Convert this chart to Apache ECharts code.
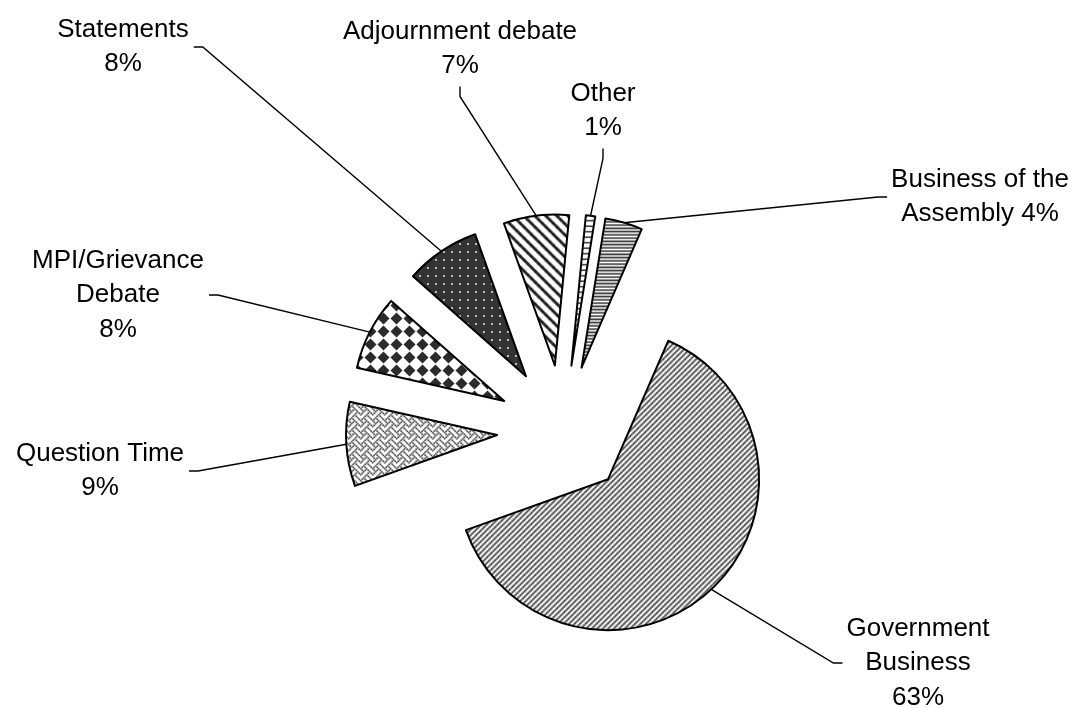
<!DOCTYPE html>
<html>
<head>
<meta charset="utf-8">
<title>Assembly sitting time</title>
<script src="https://cdn.jsdelivr.net/npm/echarts@6/dist/echarts.min.js"></script>
<style>
  html, body { margin: 0; padding: 0; background: #fff; }
  #chart { width: 1075px; height: 708px; }
</style>
</head>
<body>
<div id="chart"></div>
<script>
// data, clockwise from the big slice
const categories = [
  'Government\nBusiness',
  'Question Time',
  'MPI/Grievance\nDebate',
  'Statements',
  'Adjournment debate',
  'Other',
  'Business of the\nAssembly'
];
const values = [63, 9, 8, 8, 7, 1, 4];
const percentSep = ['\n', '\n', '\n', '\n', '\n', '\n', ' '];

// layout
const pieCenter = [563, 431];
const pieRadius = 151;
const explode = 66;
const startAngle = 66.5;
const labelPos = [[918, 663], [100, 471], [118, 295], [123, 47], [460, 49], [603, 111], [980, 197]];
const labelSide = ['left', 'right', 'right', 'right', 'bottom', 'bottom', 'left'];

// excel-like fill patterns: 8x8 bitmaps scaled up with smoothing
function bitmapPattern(rows, fg, bg, scale) {
  const src = document.createElement('canvas');
  src.width = 24; src.height = 24;
  const sc = src.getContext('2d');
  sc.fillStyle = bg;
  sc.fillRect(0, 0, 24, 24);
  sc.fillStyle = fg;
  for (let ty = 0; ty < 3; ty++) {
    for (let tx = 0; tx < 3; tx++) {
      rows.forEach((bits, r) => {
        for (let c = 0; c < 8; c++) {
          if (bits & (0x80 >> c)) sc.fillRect(tx * 8 + c, ty * 8 + r, 1, 1);
        }
      });
    }
  }
  const size = Math.round(8 * scale);
  const big = document.createElement('canvas');
  big.width = big.height = size * 3;
  const bc = big.getContext('2d');
  bc.imageSmoothingEnabled = true;
  bc.drawImage(src, 0, 0, size * 3, size * 3);
  const out = document.createElement('canvas');
  out.width = out.height = size;
  out.getContext('2d').drawImage(big, size, size, size, size, 0, 0, size, size);
  return { image: out, repeat: 'repeat' };
}

// drawn tiles for the diamond and dotted fills
function drawnPattern(size, draw) {
  const c = document.createElement('canvas');
  c.width = c.height = size;
  draw(c.getContext('2d'), size);
  return { image: c, repeat: 'repeat' };
}

const diamonds = drawnPattern(13, (ctx, s) => {
  ctx.fillStyle = '#fff';
  ctx.fillRect(0, 0, s, s);
  ctx.fillStyle = '#2b2b2b';
  const h = s / 2, r = 6;
  ctx.beginPath();
  ctx.moveTo(h, h - r);
  ctx.lineTo(h + r, h);
  ctx.lineTo(h, h + r);
  ctx.lineTo(h - r, h);
  ctx.closePath();
  ctx.fill();
});

const dots = drawnPattern(8, (ctx, s) => {
  ctx.fillStyle = '#333';
  ctx.fillRect(0, 0, s, s);
  ctx.fillStyle = '#ddd';
  ctx.beginPath();
  ctx.arc(s / 2, s / 2, 1.1, 0, Math.PI * 2);
  ctx.fill();
});

const patterns = [
  bitmapPattern([0x33, 0x66, 0xcc, 0x99, 0x33, 0x66, 0xcc, 0x99], '#555', '#fff', 1.375),
  bitmapPattern([0x88, 0x54, 0x22, 0x45, 0x88, 0x14, 0x22, 0x51], '#222', '#fff', 1.5),
  diamonds,
  dots,
  bitmapPattern([0xc1, 0xe0, 0x70, 0x38, 0x1c, 0x0e, 0x07, 0x83], '#222', '#fff', 1.375),
  bitmapPattern([0xff, 0x00, 0x00, 0x00, 0xff, 0x00, 0x00, 0x00], '#222', '#fff', 1.375),
  bitmapPattern([0xff, 0x00, 0xff, 0x00, 0xff, 0x00, 0xff, 0x00], '#333', '#fff', 1.625)
];

// each slice gets its own series pushed out along its mid angle
const total = values.reduce((a, b) => a + b, 0);
let acc = 0;
const centers = values.map((v) => {
  const mid = (startAngle - (acc + v / 2) / total * 360) * Math.PI / 180;
  acc += v;
  return [pieCenter[0] + explode * Math.cos(mid), pieCenter[1] - explode * Math.sin(mid)];
});

function layoutLabel(p) {
  const i = p.dataIndex;
  const [x, y] = labelPos[i];
  const w = p.labelRect.width;
  const h = p.labelRect.height;
  const pts = p.labelLinePoints;
  if (!pts) return { x: x, y: y, align: 'center', verticalAlign: 'middle' };
  let end, elbow;
  if (labelSide[i] === 'left') {
    end = [x - w / 2 - 4, y];
    elbow = [end[0] - 9, y];
  } else if (labelSide[i] === 'right') {
    end = [x + w / 2 + 5, y];
    elbow = [end[0] + 9, y];
  } else {
    end = [x, y + h / 2 + 3];
    elbow = [x, end[1] + 10];
  }
  return {
    x: x,
    y: y,
    align: 'center',
    verticalAlign: 'middle',
    labelLinePoints: [pts[0], elbow, end]
  };
}

const chart = echarts.init(document.getElementById('chart'));

const series = categories.map((_, k) => ({
  type: 'pie',
  silent: true,
  center: centers[k],
  radius: pieRadius,
  startAngle: startAngle,
  avoidLabelOverlap: false,
  emphasis: { disabled: true },
  label: {
    position: 'outside',
    fontFamily: '"Liberation Sans", Arial, sans-serif',
    fontSize: 26,
    lineHeight: 34.5,
    color: '#000',
    align: 'center',
    formatter: (p) => categories[p.dataIndex] + percentSep[p.dataIndex] + Math.round(p.percent) + '%'
  },
  labelLine: {
    smooth: false,
    lineStyle: { color: '#000', width: 1.4 }
  },
  labelLayout: layoutLabel,
  data: categories.map((name, i) => ({
    name: name,
    value: values[i],
    itemStyle: i === k
      ? { color: patterns[i], borderColor: '#000', borderWidth: 2 }
      : { color: 'transparent', borderWidth: 0 },
    label: { show: i === k },
    labelLine: { show: i === k }
  }))
}));

chart.setOption({
  animation: false,
  backgroundColor: '#fff',
  series: series
});
</script>
</body>
</html>
